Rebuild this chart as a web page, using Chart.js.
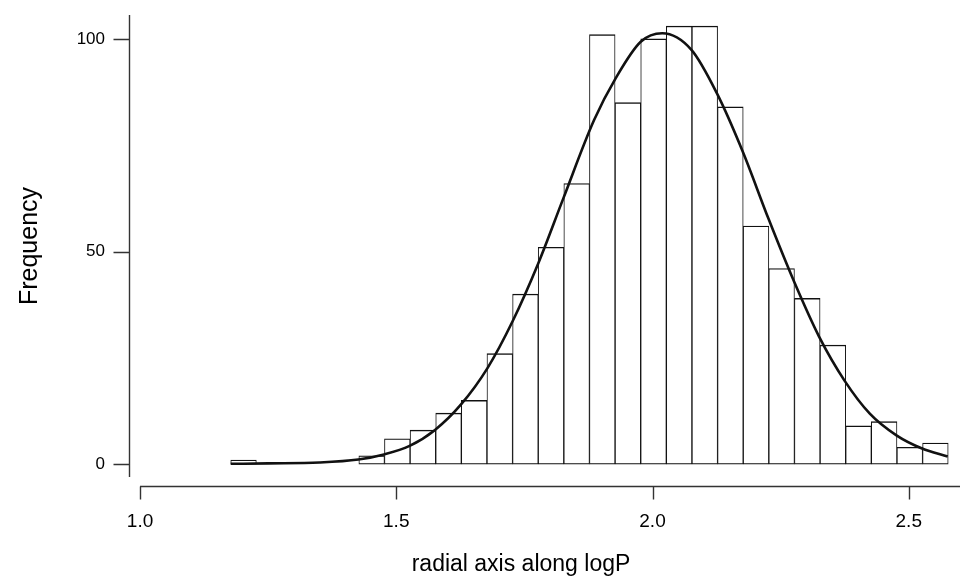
<!DOCTYPE html>
<html>
<head>
<meta charset="utf-8">
<script src="https://cdn.jsdelivr.net/npm/chart.js@4.4.1/dist/chart.umd.min.js"></script>
<style>
  html, body { margin: 0; padding: 0; background: #fff; }
  #wrap { width: 960px; height: 580px; }
</style>
</head>
<body>
<div id="wrap"><canvas id="c" width="960" height="580"></canvas></div>
<script>
// histogram bins (centres, width 0.05) and counts
const binCenters = [1.202, 1.252, 1.302, 1.352, 1.402, 1.452, 1.502, 1.552, 1.602, 1.652,
                    1.702, 1.752, 1.802, 1.852, 1.902, 1.952, 2.002, 2.052, 2.102, 2.152,
                    2.202, 2.252, 2.302, 2.352, 2.402, 2.452, 2.502, 2.552];
const counts = [1, 0, 0, 0, 0, 2, 6, 8, 12, 15,
                26, 40, 51, 66, 101, 85, 100, 103, 103, 84,
                56, 46, 39, 28, 9, 10, 4, 5];

// fitted curve, points
const curveX = [1.177, 1.25, 1.35, 1.426, 1.476, 1.526, 1.575, 1.626, 1.678, 1.727,
                1.777, 1.826, 1.886, 1.928, 1.977, 2.019, 2.076, 2.126, 2.176, 2.226,
                2.276, 2.325, 2.375, 2.424, 2.476, 2.526, 2.576];
const curveY = [0.1, 0.2, 0.4, 1.1, 2.3, 4.3, 8.0, 14.0, 22.6, 33.6,
                47.2, 62.5, 80.9, 90.7, 99.3, 101.3, 97.4, 87.1, 73.5, 57.8,
                43.0, 30.0, 19.6, 11.9, 6.8, 3.7, 1.8];

const xTicks = [1.0, 1.5, 2.0, 2.5];
const yTicks = [0, 50, 100];

const FONT = "'Liberation Sans', Arial, sans-serif";
const AXIS = '#333';

const bars = binCenters.map((x, i) => ({ x: x, y: counts[i] }));
const curve = curveX.map((x, i) => ({ x: x, y: curveY[i] }));

// detached axes like the original plot, plus the x title
const axesPlugin = {
  id: 'axes',
  afterDraw(chart) {
    const ctx = chart.ctx;
    const xs = chart.scales.x, ys = chart.scales.y;
    const area = chart.chartArea;
    ctx.save();
    ctx.strokeStyle = AXIS;
    ctx.lineWidth = 1.4;
    // y axis
    const ax = Math.round(area.left) + 0.5;
    ctx.beginPath();
    ctx.moveTo(ax, area.top);
    ctx.lineTo(ax, area.bottom);
    yTicks.forEach(v => {
      const py = Math.round(ys.getPixelForValue(v)) + 0.5;
      ctx.moveTo(ax - 16, py);
      ctx.lineTo(ax, py);
    });
    ctx.stroke();
    // x axis
    const ay = Math.round(area.bottom) + 9.5;
    ctx.beginPath();
    ctx.moveTo(xs.getPixelForValue(xTicks[0]), ay);
    ctx.lineTo(area.right, ay);
    xTicks.forEach(v => {
      const px = Math.round(xs.getPixelForValue(v)) + 0.5;
      ctx.moveTo(px, ay);
      ctx.lineTo(px, ay + 13);
    });
    ctx.stroke();
    // x title
    ctx.fillStyle = '#000';
    ctx.font = '23px ' + FONT;
    ctx.textAlign = 'center';
    ctx.textBaseline = 'middle';
    ctx.fillText('radial axis along logP', 521, 565);
    ctx.restore();
  }
};

new Chart(document.getElementById('c'), {
  type: 'bar',
  data: {
    datasets: [
      {
        type: 'line',
        data: curve,
        borderColor: '#111',
        borderWidth: 2.6,
        pointRadius: 0,
        tension: 0.4,
        cubicInterpolationMode: 'monotone',
        fill: false,
        order: 0
      },
      {
        type: 'bar',
        data: bars,
        backgroundColor: '#fff',
        borderColor: '#111',
        borderWidth: { top: 1.4, left: 1, right: 1, bottom: 1.2 },
        borderSkipped: false,
        barPercentage: 1,
        categoryPercentage: 1,
        grouped: false,
        order: 1
      }
    ]
  },
  options: {
    responsive: false,
    animation: false,
    layout: { padding: { top: 15, right: 0, left: 0, bottom: 0 } },
    plugins: { legend: { display: false }, tooltip: { enabled: false } },
    scales: {
      x: {
        type: 'linear',
        offset: false,
        min: 0.9785,
        max: 2.6,
        grid: { display: false, drawTicks: false, offset: false },
        border: { display: false },
        afterBuildTicks: s => { s.ticks = xTicks.map(v => ({ value: v })); },
        afterFit: s => { s.height = 103; s.paddingLeft = 0; s.paddingRight = 0; },
        ticks: {
          color: '#000',
          font: { family: FONT, size: 19 },
          padding: 33,
          maxRotation: 0,
          callback: v => v.toFixed(1)
        },
        title: { display: false }
      },
      y: {
        min: -3,
        max: 105.6,
        grid: { display: false, drawTicks: false },
        border: { display: false },
        afterBuildTicks: s => { s.ticks = yTicks.map(v => ({ value: v })); },
        afterFit: s => { s.width = 129; s.paddingTop = 0; s.paddingBottom = 0; },
        ticks: {
          color: '#000',
          font: { family: FONT, size: 17 },
          padding: 24
        },
        title: {
          display: true,
          text: 'Frequency',
          color: '#000',
          font: { family: FONT, size: 25 },
          padding: { top: 15, bottom: 0 }
        }
      }
    }
  },
  plugins: [axesPlugin]
});
</script>
</body>
</html>
